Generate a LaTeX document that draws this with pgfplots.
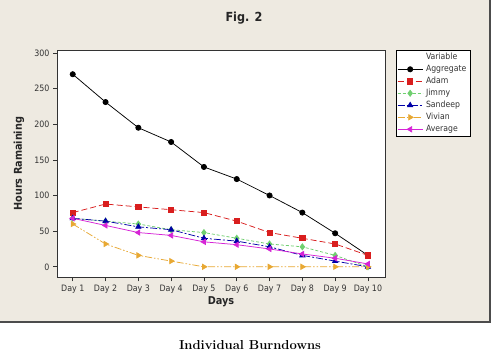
\documentclass[border=0pt]{standalone}
\usepackage{fontspec}
\newfontfamily\tf{DejaVu Sans Condensed}
\usepackage{pgfplots}
\pgfplotsset{compat=1.18}
\definecolor{bg}{HTML}{EEEAE1}
\definecolor{cAdam}{HTML}{D91E1E}
\definecolor{cJimmy}{HTML}{6FCF6F}
\definecolor{cSand}{HTML}{0000A8}
\definecolor{cViv}{HTML}{E8A832}
\definecolor{cAvg}{HTML}{D624D6}
\begin{document}
\begin{tikzpicture}[x=1pt,y=1pt]
\useasboundingbox (0,0) rectangle (500,352);
\fill[bg] (0,30) rectangle (490,352);
\draw[line width=1.2pt, gray!60!black] (490,352) -- (490,30) -- (0,30);
\node[font=\tf\bfseries\fontsize{12.5}{14}\selectfont, text=black!85] at (244,334) {Fig. 2};
\node[font=\bfseries\fontsize{13}{15}\selectfont] at (250,7) {Individual Burndowns};
\begin{axis}[
  at={(57pt,74.5pt)}, anchor=south west,
  width=328pt, height=227.5pt, scale only axis,
  xmin=0.52, xmax=10.52, ymin=-15, ymax=304,
  xtick={1,...,10},
  xticklabels={Day 1,Day 2,Day 3,Day 4,Day 5,Day 6,Day 7,Day 8,Day 9,Day 10},
  ytick={0,50,...,300},
  tick align=outside, tick pos=left, major tick length=4pt,
  axis line style={gray!40!black, line width=0.8pt},
  tick style={gray!40!black, line width=0.6pt},
  axis background/.style={fill=white},
  ticklabel style={font=\tf\fontsize{8.8}{10}\selectfont, text=black!80},
  /pgf/number format/assume math mode=true,
  xlabel={Days}, ylabel={Hours Ramaining},
  every axis x label/.style={at={(axis description cs:0.5,-0.1077)}, anchor=center},
  every axis y label/.style={at={(axis description cs:-0.1159,0.5)}, rotate=90, anchor=center},
  label style={font=\tf\bfseries\fontsize{10.8}{12}\selectfont, text=black!85},
  legend style={at={(1.0335,1)}, anchor=north west, draw=black, line width=0.6pt, fill=white,
    font=\tf\fontsize{8.6}{10}\selectfont, inner sep=1pt, row sep=0pt,
    nodes={text height=6.3pt, text depth=1.7pt, inner ysep=2pt, inner xsep=3pt}, text=black!80},
  legend cell align=left,
  legend image code/.code={\draw[mark repeat=2,mark phase=2,#1] plot coordinates {(0pt,0pt) (12.5pt,0pt) (25pt,0pt)};},
]
\addlegendimage{empty legend}
\addlegendentry{Variable}
\addplot[black, line width=0.75pt, mark=*, mark size=2.6pt, mark options={solid}] coordinates {
(1,270)(2,231)(3,195)(4,175)(5,140)(6,123)(7,100)(8,76)(9,47)(10,16)};
\addlegendentry{Aggregate}
\addplot[cAdam, line width=0.75pt, dash pattern=on 6pt off 3pt, mark=square*, mark size=2.6pt, mark options={solid}] coordinates {
(1,76)(2,88)(3,84)(4,80)(5,76)(6,64)(7,48)(8,40)(9,32)(10,16)};
\addlegendentry{Adam}
\addplot[cJimmy, line width=0.75pt, dash pattern=on 3pt off 2pt, mark=diamond*, mark size=3pt, mark options={solid}] coordinates {
(1,68)(2,64)(3,60)(4,52)(5,48)(6,40)(7,32)(8,28)(9,16)(10,0)};
\addlegendentry{Jimmy}
\addplot[cSand, line width=0.75pt, dash pattern=on 7pt off 2pt on 2pt off 2pt, mark=triangle*, mark size=3pt, mark options={solid}] coordinates {
(1,68)(2,64)(3,56)(4,52)(5,40)(6,36)(7,28)(8,16)(9,8)(10,0)};
\addlegendentry{Sandeep}
\addplot[cViv, line width=0.75pt, dash pattern=on 7pt off 2pt on 1.5pt off 2pt on 1.5pt off 2pt, mark=triangle*, mark size=3pt, mark options={solid, rotate=-90}] coordinates {
(1,60)(2,32)(3,16)(4,8)(5,0)(6,0)(7,0)(8,0)(9,0)(10,0)};
\addlegendentry{Vivian}
\addplot[cAvg, line width=0.75pt, mark=triangle*, mark size=3pt, mark options={solid, rotate=90}] coordinates {
(1,68)(2,58)(3,48)(4,44)(5,35)(6,31)(7,25)(8,18)(9,12)(10,4)};
\addlegendentry{Average}
\end{axis}
\end{tikzpicture}
\end{document}
